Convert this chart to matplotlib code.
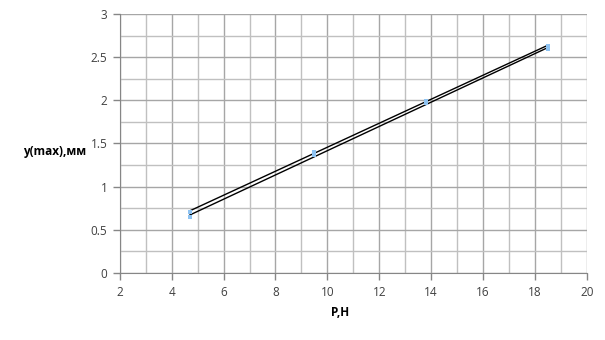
import matplotlib
matplotlib.use('Agg')
import matplotlib.pyplot as plt
import matplotlib.ticker as ticker
import numpy as np

# data
p_load = [4.7, 9.5, 13.8, 18.5]
y_up = [0.71, 1.40, 1.99, 2.63]
y_down = [0.65, 1.37, 1.97, 2.59]

x_ticks = [2, 4, 6, 8, 10, 12, 14, 16, 18, 20]
y_ticks = [0, 0.5, 1, 1.5, 2, 2.5, 3]
y_tick_labels = ['0', '0.5', '1', '1.5', '2', '2.5', '3']

plt.rcParams['font.family'] = ['Open Sans', 'DejaVu Sans']

fig = plt.figure(figsize=(6.05, 3.4), dpi=100)
ax = fig.add_axes([0.198, 0.197, 0.772, 0.762])

# trend lines through each series
for ys in (y_up, y_down):
    k, b = np.polyfit(p_load, ys, 1)
    xs = np.array([min(p_load), max(p_load)])
    ax.plot(xs, k * xs + b, color='black', linewidth=1.0, zorder=3)

for ys in (y_up, y_down):
    ax.plot(p_load, ys, linestyle='none', marker='s', markersize=3.3,
            color='#8ec3f2', markeredgewidth=0, zorder=4)

ax.set_xlim(2, 20)
ax.set_ylim(0, 3)
ax.set_xticks(x_ticks)
ax.set_yticks(y_ticks)
ax.set_yticklabels(y_tick_labels)
ax.xaxis.set_minor_locator(ticker.MultipleLocator(1))
ax.yaxis.set_minor_locator(ticker.MultipleLocator(0.25))

ax.grid(which='major', color='#a6a6a6', linewidth=1.0)
ax.grid(which='minor', color='#c0c0c0', linewidth=1.0)
ax.set_axisbelow(True)

for side in ('top', 'right'):
    ax.spines[side].set_visible(False)
ax.spines['left'].set_color('#868686')
ax.spines['bottom'].set_color('#868686')

ax.tick_params(which='major', direction='out', length=5, width=1,
               color='#868686', labelsize=8.5, labelcolor='#404040', pad=4)
ax.tick_params(which='minor', length=0)

# axis titles sit where the original put them
fig.text(340 / 605, 1 - 313 / 340, 'P,H', fontsize=8.5, fontweight='bold',
         ha='center', va='center')
fig.text(55 / 605, 1 - 152 / 340, 'y(max),мм', fontsize=8.5,
         fontweight='bold', ha='center', va='center')

fig.savefig('out.png', dpi=100)
